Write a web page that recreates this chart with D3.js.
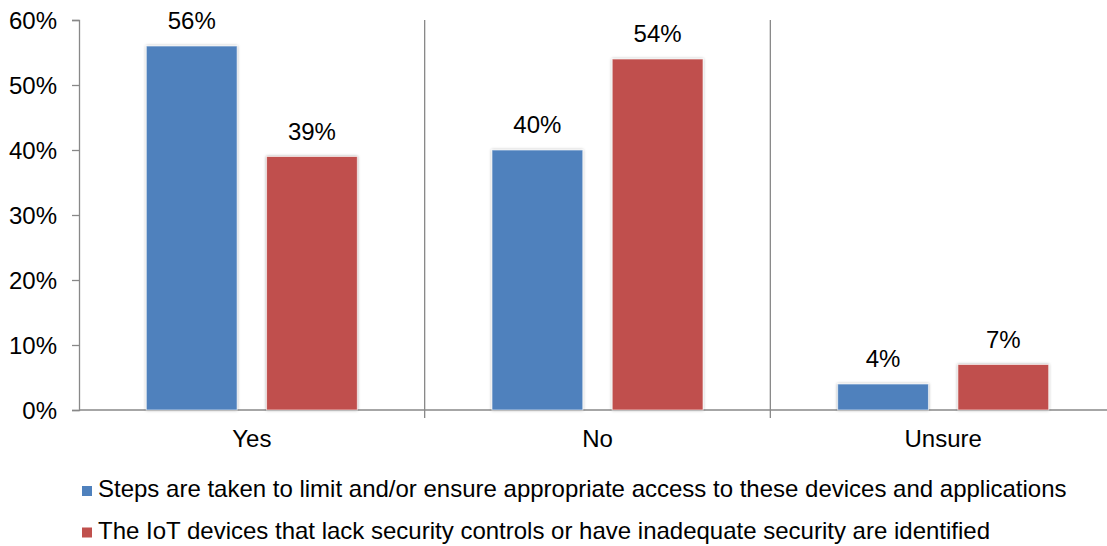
<!DOCTYPE html>
<html>
<head>
<meta charset="utf-8">
<script src="https://cdn.jsdelivr.net/npm/d3@7"></script>
<style>
  html, body { margin: 0; padding: 0; background: #fff; }
  svg { display: block; font-family: "Liberation Sans", Arial, sans-serif; }
</style>
</head>
<body>
<svg id="chart" width="1107" height="546"></svg>
<script>
// Survey responses per answer
const categories = ["Yes", "No", "Unsure"];
const seriesNames = [
  "Steps are taken to limit and/or ensure appropriate access to these devices and applications",
  "The IoT devices that lack security controls or have inadequate security are identified"
];
const stepsTaken = [56, 40, 4];
const devicesIdentified = [39, 54, 7];
const yTicks = [0, 10, 20, 30, 40, 50, 60];
const colors = ["#4F81BD", "#C0504D"];

const series = [stepsTaken, devicesIdentified];

const svg = d3.select("#chart");
const plot = { left: 79, right: 1116, top: 20, bottom: 410 };
const fontSize = "24px";

const x = d3.scaleBand().domain(categories).range([plot.left, plot.right]).padding(0);
const xInner = d3.scaleBand().domain([0, 1]).range([0, x.bandwidth()])
  .paddingInner(0.245).paddingOuter(0.56);
const y = d3.scaleLinear().domain([0, 60]).range([plot.bottom, plot.top]);

// soft shadow behind bars
const defs = svg.append("defs");
const f = defs.append("filter").attr("id", "shadow")
  .attr("x", "-10%").attr("y", "-10%").attr("width", "120%").attr("height", "120%");
f.append("feDropShadow").attr("dx", 0).attr("dy", 0).attr("stdDeviation", 1.6)
  .attr("flood-color", "#000").attr("flood-opacity", 0.35);

// Y axis
const yAxis = d3.axisLeft(y).tickValues(yTicks).tickFormat(d => d + "%").tickSize(7).tickPadding(15);
const gy = svg.append("g").attr("transform", `translate(${plot.left},0)`).call(yAxis);
gy.select(".domain").attr("stroke", "#888").attr("stroke-width", 1.3);
gy.selectAll(".tick line").attr("stroke", "#888").attr("stroke-width", 1.3);
gy.selectAll(".tick text").attr("fill", "#000").style("font-size", fontSize)
  .attr("dy", "0.36em");

// category separators
svg.append("g").selectAll("line")
  .data(categories.slice(1))
  .join("line")
  .attr("x1", d => x(d)).attr("x2", d => x(d))
  .attr("y1", plot.top).attr("y2", plot.bottom + 8)
  .attr("stroke", "#888").attr("stroke-width", 1.3);

// X axis baseline
svg.append("line")
  .attr("x1", plot.left).attr("x2", plot.right)
  .attr("y1", y(0)).attr("y2", y(0))
  .attr("stroke", "#888").attr("stroke-width", 1.3);

// category labels
svg.append("g").selectAll("text")
  .data(categories)
  .join("text")
  .attr("x", d => x(d) + x.bandwidth() / 2)
  .attr("y", 447)
  .attr("text-anchor", "middle")
  .style("font-size", fontSize)
  .text(d => d);

// bars and value labels
series.forEach((vals, si) => {
  const g = svg.append("g");
  g.selectAll("rect")
    .data(vals)
    .join("rect")
    .attr("x", (d, i) => x(categories[i]) + xInner(si))
    .attr("y", d => y(d))
    .attr("width", xInner.bandwidth())
    .attr("height", d => y(0) - y(d))
    .attr("fill", colors[si])
    .attr("stroke", "#fff")
    .attr("stroke-opacity", 0.6)
    .attr("stroke-width", 1)
    .attr("filter", "url(#shadow)");
  g.selectAll("text")
    .data(vals)
    .join("text")
    .attr("x", (d, i) => x(categories[i]) + xInner(si) + xInner.bandwidth() / 2)
    .attr("y", d => y(d) - 17)
    .attr("text-anchor", "middle")
    .style("font-size", fontSize)
    .text(d => d + "%");
});

// legend
const legend = svg.append("g").selectAll("g")
  .data(seriesNames)
  .join("g")
  .attr("transform", (d, i) => `translate(82, ${486 + i * 41.5})`);
legend.append("rect").attr("width", 10).attr("height", 10)
  .attr("fill", (d, i) => colors[i]);
legend.append("text").attr("x", 16).attr("y", 11)
  .style("font-size", fontSize)
  .text(d => d);
</script>
</body>
</html>
